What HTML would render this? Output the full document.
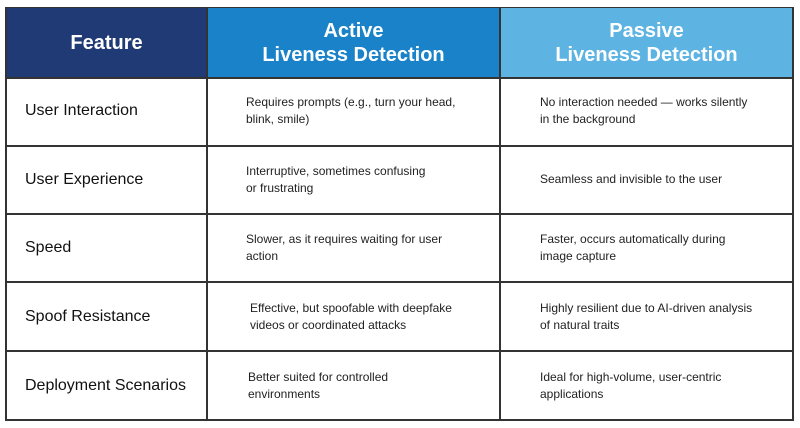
<!DOCTYPE html>
<html><head><style>
body{margin:0;width:800px;height:428px;background:#fff;position:relative;overflow:hidden;font-family:"Liberation Sans",sans-serif;}
.c{position:absolute;box-sizing:border-box;display:flex;align-items:center;}
.h{color:#fff;font-weight:bold;font-size:20px;justify-content:center;text-align:center;line-height:24px;}
.f{font-size:16px;color:#111;padding-left:19px;}
.t{font-size:12px;color:#222;line-height:17px;}
.l{position:absolute;background:#333;}
</style></head><body>
<div class="c h" style="left:6px;top:8px;width:201px;height:69px;background:#1f3a74;">Feature</div>
<div class="c h" style="left:207px;top:8px;width:293px;height:69px;background:#1a82c8;">Active<br>Liveness Detection</div>
<div class="c h" style="left:500px;top:8px;width:293px;height:69px;background:#5db4e2;">Passive<br>Liveness Detection</div>

<div class="c f" style="left:6px;top:77px;width:201px;height:68px;">User Interaction</div>
<div class="c f" style="left:6px;top:145px;width:201px;height:69px;">User Experience</div>
<div class="c f" style="left:6px;top:214px;width:201px;height:68px;">Speed</div>
<div class="c f" style="left:6px;top:282px;width:201px;height:69px;">Spoof Resistance</div>
<div class="c f" style="left:6px;top:351px;width:201px;height:69px;">Deployment Scenarios</div>

<div class="c t" style="left:246px;top:77px;width:250px;height:68px;">Requires prompts (e.g., turn your head,<br>blink, smile)</div>
<div class="c t" style="left:246px;top:145px;width:250px;height:69px;">Interruptive, sometimes confusing<br>or frustrating</div>
<div class="c t" style="left:246px;top:214px;width:250px;height:68px;">Slower, as it requires waiting for user<br>action</div>
<div class="c t" style="left:250px;top:282px;width:250px;height:69px;">Effective, but spoofable with deepfake<br>videos or coordinated attacks</div>
<div class="c t" style="left:248px;top:351px;width:250px;height:69px;">Better suited for controlled<br>environments</div>

<div class="c t" style="left:540px;top:77px;width:250px;height:68px;">No interaction needed — works silently<br>in the background</div>
<div class="c t" style="left:540px;top:145px;width:250px;height:69px;">Seamless and invisible to the user</div>
<div class="c t" style="left:540px;top:214px;width:250px;height:68px;">Faster, occurs automatically during<br>image capture</div>
<div class="c t" style="left:540px;top:282px;width:250px;height:69px;">Highly resilient due to AI-driven analysis<br>of natural traits</div>
<div class="c t" style="left:540px;top:351px;width:250px;height:69px;">Ideal for high-volume, user-centric<br>applications</div>

<div class="l" style="left:5px;top:7px;width:789px;height:1px;"></div>
<div class="l" style="left:5px;top:7px;width:2px;height:414px;"></div>
<div class="l" style="left:792px;top:7px;width:2px;height:414px;"></div>
<div class="l" style="left:206px;top:7px;width:2px;height:414px;"></div>
<div class="l" style="left:499px;top:7px;width:2px;height:414px;"></div>
<div class="l" style="left:5px;top:77px;width:789px;height:2px;"></div>
<div class="l" style="left:5px;top:145px;width:789px;height:2px;"></div>
<div class="l" style="left:5px;top:213px;width:789px;height:2px;"></div>
<div class="l" style="left:5px;top:281px;width:789px;height:2px;"></div>
<div class="l" style="left:5px;top:350px;width:789px;height:2px;"></div>
<div class="l" style="left:5px;top:419px;width:789px;height:2px;"></div>
</body></html>
